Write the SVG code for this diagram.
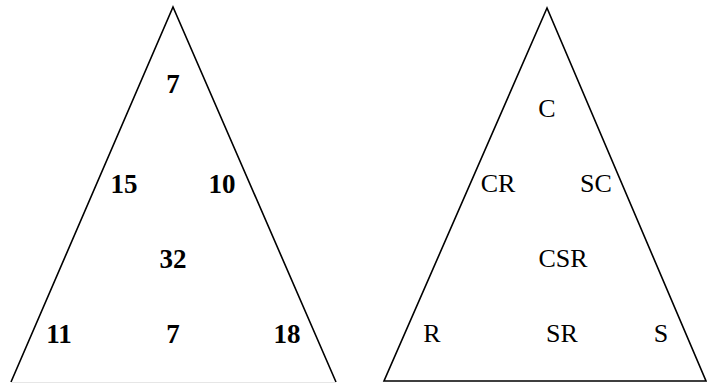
<svg xmlns="http://www.w3.org/2000/svg" width="707" height="383" viewBox="0 0 707 383">
<style>
.tri{fill:none;stroke:#000;stroke-width:1.6;stroke-linejoin:miter}
.num{font-family:"Liberation Serif",serif;font-weight:bold;font-size:27px;text-anchor:middle;fill:#000}
.lab{font-family:"Liberation Serif",serif;font-size:26px;text-anchor:middle;fill:#000}
</style>
<rect width="707" height="383" fill="#fff"/>
<g id="left-triangle">
<polyline class="tri" points="11,382 173,7 336,382"/>
<line x1="11" y1="382.5" x2="336" y2="382.5" stroke="#e6e6e6" stroke-width="1"/>
</g>
<g id="right-triangle">
<polygon class="tri" points="547,8 384,381 706,381"/>
</g>
<g id="left-numbers">
<text class="num" x="173" y="93">7</text>
<text class="num" x="124" y="193">15</text>
<text class="num" x="222" y="193">10</text>
<text class="num" x="173" y="268">32</text>
<text class="num" x="59" y="343">11</text>
<text class="num" x="173" y="343">7</text>
<text class="num" x="287" y="343">18</text>
</g>
<g id="right-labels">
<text class="lab" x="547" y="117">C</text>
<text class="lab" x="498" y="192">CR</text>
<text class="lab" x="596" y="192">SC</text>
<text class="lab" x="563" y="267">CSR</text>
<text class="lab" x="432" y="342">R</text>
<text class="lab" x="562" y="342">SR</text>
<text class="lab" x="661" y="342">S</text>
</g>
</svg>
